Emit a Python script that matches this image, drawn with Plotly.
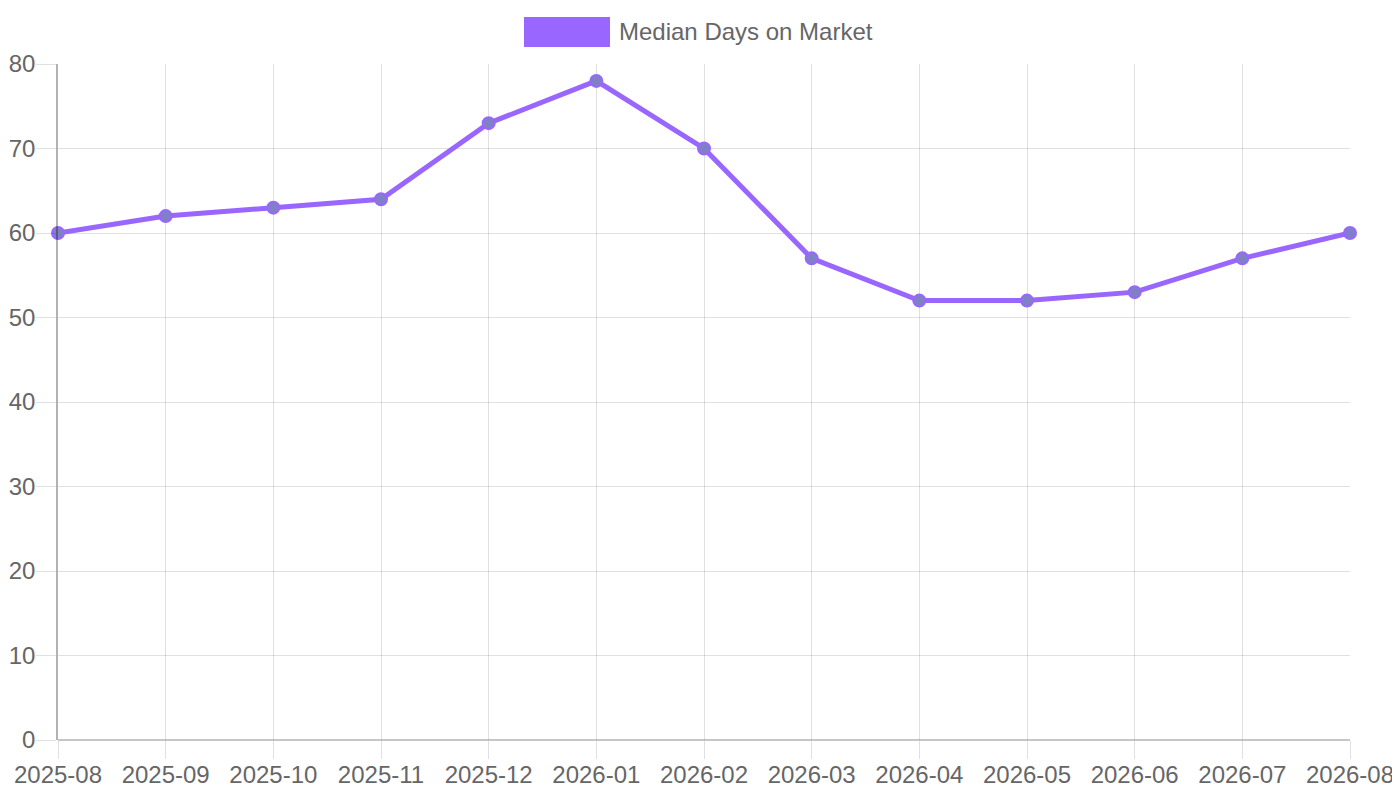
import plotly.graph_objects as go

months = ["2025-08", "2025-09", "2025-10", "2025-11", "2025-12", "2026-01",
          "2026-02", "2026-03", "2026-04", "2026-05", "2026-06", "2026-07", "2026-08"]
median_days = [60, 62, 63, 64, 73, 78, 70, 57, 52, 52, 53, 57, 60]
series_name = "Median Days on Market"
y_ticks = [0, 10, 20, 30, 40, 50, 60, 70, 80]

LINE = "#9966ff"
FONT = "Liberation Sans, Arial, sans-serif"
TXT = "#666666"
GRID = "rgba(0,0,0,0.12)"

fig = go.Figure()
fig.add_trace(go.Scatter(
    x=months, y=median_days, mode="lines+markers", name=series_name,
    line=dict(color=LINE, width=5),
    marker=dict(size=12, color="#8080c8", line=dict(color=LINE, width=2)),
    showlegend=False, cliponaxis=False,
))

# legend (Chart.js style box + label)
fig.add_shape(type="rect", xref="paper", yref="paper",
              x0=(524 - 58) / 1292, x1=(610 - 58) / 1292,
              y0=(740 - 47) / 676, y1=(740 - 17) / 676,
              fillcolor=LINE, line=dict(width=0))
fig.add_annotation(xref="paper", yref="paper", x=(617 - 58) / 1292, y=(740 - 32) / 676,
                   text=series_name, showarrow=False, xanchor="left", yanchor="middle",
                   font=dict(family=FONT, size=24, color=TXT))

# page body has an 8px margin, so the figure is sized/offset to compensate
fig.update_layout(
    width=1392, height=784,
    margin=dict(l=50, r=50, t=56, b=52),
    paper_bgcolor="white", plot_bgcolor="white",
    font=dict(family=FONT, size=24, color=TXT),
)
fig.update_xaxes(
    type="category", range=[0, len(months) - 1], automargin=False,
    showgrid=True, gridcolor=GRID, gridwidth=1,
    ticks="outside", ticklen=18, tickcolor=GRID, tickwidth=1,
    ticklabelstandoff=-5,
    showline=False, zeroline=False,
    tickfont=dict(family=FONT, size=24, color=TXT),
)
fig.update_yaxes(
    range=[0, 80], tickvals=y_ticks, automargin=False,
    showgrid=True, gridcolor=GRID, gridwidth=1,
    ticks="outside", ticklen=20, tickcolor=GRID, tickwidth=1,
    ticklabelstandoff=-4,
    showline=True, linecolor="rgba(0,0,0,0.3)", linewidth=1.5,
    zeroline=False,
    tickfont=dict(family=FONT, size=24, color=TXT),
)
# bottom axis line
fig.add_shape(type="line", xref="paper", yref="paper", x0=0, x1=1, y0=0, y1=0,
              line=dict(color="rgba(0,0,0,0.3)", width=1.5))

fig.write_html("out.html")
